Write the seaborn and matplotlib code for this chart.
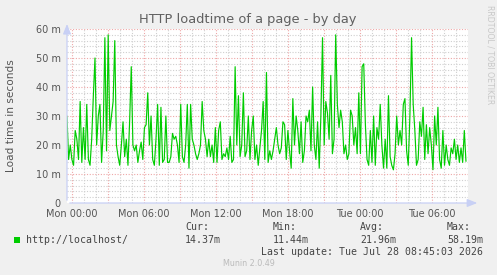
import numpy as np
import pandas as pd
import matplotlib
matplotlib.use("Agg")
import matplotlib.pyplot as plt
import seaborn as sns

# ---- data (milliseconds), sampled evenly across the graph window ----
loadtime_ms = [
    30, 15, 20, 15, 13, 25, 22, 15, 35, 14, 26, 15, 34, 15, 13,
    22, 37, 50, 20, 30, 34, 14, 25, 57, 18, 58, 25, 30, 35, 56,
    20, 16, 13, 20, 28, 16, 22, 13, 28, 47, 20, 18, 20, 14,
    18, 21, 15, 26, 27, 38, 20, 30, 15, 13, 22, 34, 13, 33, 14, 15,
    30, 14, 14, 16, 24, 22, 23, 20, 14, 34, 16, 14, 20, 34,
    12, 34, 22, 20, 17, 15, 17, 20, 35, 25, 22, 16, 22, 16, 20, 14,
    26, 14, 25, 28, 15, 17, 16, 19, 15, 23, 14, 15, 47, 20,
    37, 16, 20, 38, 16, 18,
    30, 15, 25, 30, 15, 20, 13, 19, 25, 35, 15, 45, 14, 18, 15, 18,
    22, 26, 20, 17, 19, 28, 27, 15, 25, 18, 12, 36, 20, 30, 25, 17,
    28, 14, 18, 30, 28, 32, 18, 40, 20, 15, 28, 12, 30, 57, 20, 35,
    31, 22, 44, 17, 22, 58, 34, 26, 32, 28, 17, 20, 15, 17, 32, 30,
    20, 26, 17, 38, 17, 47, 48, 27, 15, 13, 25, 14, 30, 13, 26, 22,
    34, 20, 12, 22, 12, 37, 16, 13, 11.44, 17, 30, 20, 25, 20, 34, 36,
    18, 13, 30, 57, 34, 25, 13, 15, 28, 23, 33, 15, 27, 17, 26, 20,
    11.5, 30, 20, 33, 15, 12, 25, 13, 20, 15, 13, 19, 17, 22, 15, 20,
    14, 19, 14, 25, 14.37,
]
window_start_h = -0.42   # hours relative to Mon 00:00
window_end_h = 32.83
tick_hours = [0, 6, 12, 18, 24, 30]
tick_labels = ["Mon 00:00", "Mon 06:00", "Mon 12:00", "Mon 18:00", "Tue 00:00", "Tue 06:00"]
y_ticks = [0, 10, 20, 30, 40, 50, 60]
y_labels = ["0", "10 m", "20 m", "30 m", "40 m", "50 m", "60 m"]
series_name = "http://localhost/"
stats_names = ["Cur:", "Min:", "Avg:", "Max:"]
stats_values = ["14.37m", "11.44m", "21.96m", "58.19m"]

hours = np.linspace(window_start_h, window_end_h, len(loadtime_ms))
df = pd.DataFrame({"hour": hours, "ms": loadtime_ms})

# ---- figure ----
sns.set_theme(style="white")
plt.rcParams["font.family"] = ["DejaVu Sans"]
W, H = 497, 275
fig = plt.figure(figsize=(W / 100, H / 100), dpi=100, facecolor="#f0f0f0")

def fx(x):
    return x / W

def fy(y):
    return 1 - y / H

L, R, T, B = 67, 468, 29, 203
ax = fig.add_axes([fx(L), fy(B), fx(R) - fx(L), fy(T) - fy(B)])
ax.set_facecolor("white")

xmin, xmax = (L - 72) / 12.0, (R - 72) / 12.0
ax.set_xlim(xmin, xmax)
ax.set_ylim(0, 60)

# grids
for h in np.arange(0, 34, 1):
    if xmin < h < xmax:
        if h % 3 == 0:
            ax.axvline(h, color="#eea8a8", lw=0.8, ls=(0, (1, 1.5)), zorder=1)
        else:
            ax.axvline(h, color="#cfcfcf", lw=0.8, ls=(0, (1, 1.5)), zorder=0.5)
for v in np.arange(2, 61, 2):
    if v % 10 == 0:
        ax.axhline(v, color="#eea8a8", lw=0.8, ls=(0, (1, 1.5)), zorder=1)
    else:
        ax.axhline(v, color="#cfcfcf", lw=0.8, ls=(0, (1, 1.5)), zorder=0.5)

sns.lineplot(data=df, x="hour", y="ms", ax=ax, color="#00cc00", linewidth=0.85, zorder=3)

for s in ax.spines.values():
    s.set_visible(False)
axis_col = "#c8d0f5"
ax.annotate("", xy=(0, 1.045), xytext=(0, 0), xycoords="axes fraction",
            arrowprops=dict(arrowstyle="-|>,head_length=0.5,head_width=0.2", color=axis_col, lw=0.9),
            annotation_clip=False)
ax.annotate("", xy=(1.03, 0), xytext=(0, 0), xycoords="axes fraction",
            arrowprops=dict(arrowstyle="-|>,head_length=0.5,head_width=0.2", color=axis_col, lw=0.9),
            annotation_clip=False)

ax.set_xticks(tick_hours)
ax.set_xticklabels(tick_labels)
ax.set_yticks(y_ticks)
ax.set_yticklabels(y_labels)
ax.tick_params(axis="both", colors="#555555", labelsize=7, length=2.5, width=0.6, pad=2)
ax.tick_params(axis="x", color="#eea8a8")
ax.tick_params(axis="y", color=axis_col)
ax.set_xlabel("")
ax.set_ylabel("")

fig.text(fx(248), fy(19), "HTTP loadtime of a page - by day", ha="center", va="center",
         fontsize=9.4, color="#606060")
fig.text(fx(11), fy(116), "Load time in seconds", ha="center", va="center", rotation=90,
         fontsize=7.6, color="#555555")
fig.text(fx(490), fy(5), "RRDTOOL / TOBI OETIKER", ha="center", va="top", rotation=270,
         fontsize=5.6, color="#c8c8c8")

# legend
fig.patches.append(plt.Rectangle((fx(14), fy(243)), fx(6), 6 / H, transform=fig.transFigure,
                                 facecolor="#00cc00", edgecolor="none"))
mono = "DejaVu Sans Mono"
txt_col = "#444444"
fig.text(fx(26), fy(240), series_name, ha="left", va="center", fontsize=7.1, family=mono, color=txt_col)
for nm, val, x in zip(stats_names, stats_values, [185, 273, 360, 447]):
    fig.text(fx(x), fy(227), nm, ha="left", va="center", fontsize=7.1, family=mono, color=txt_col)
    fig.text(fx(x), fy(240), val, ha="left", va="center", fontsize=7.1, family=mono, color=txt_col)
fig.text(fx(483), fy(252), "Last update: Tue Jul 28 08:45:03 2026", ha="right", va="center",
         fontsize=7.1, family=mono, color=txt_col)
fig.text(fx(249), fy(264), "Munin 2.0.49", ha="center", va="center", fontsize=5.8, color="#bbbbbb")

fig.savefig("out.png", dpi=100, facecolor=fig.get_facecolor())
